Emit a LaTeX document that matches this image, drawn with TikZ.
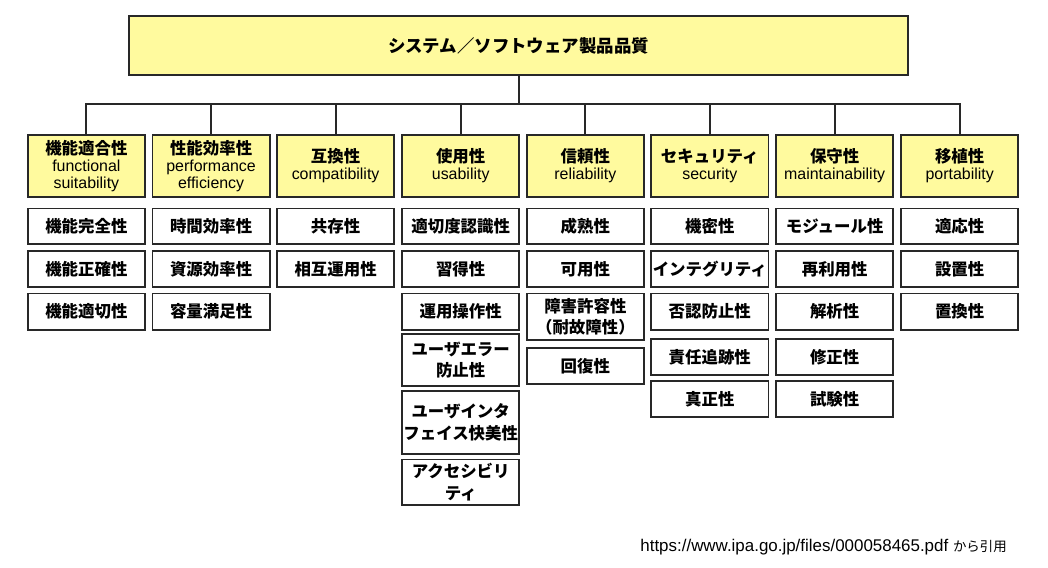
\documentclass[tikz,border=0pt]{standalone}
\usepackage{fontspec}
\setmainfont{Noto Sans CJK JP}
\newfontfamily\lat{Liberation Sans}
\definecolor{catyellow}{RGB}{255,250,158}
\definecolor{edge}{RGB}{40,40,40}
\newcommand\jp[1]{{\rmfamily\bfseries\fontsize{16.5}{16.5}\selectfont #1}}
\tikzset{
  frame/.style={draw=edge, line width=1.8bp},
  topbox/.style={frame, fill=catyellow, minimum width=779bp, minimum height=59.5bp, inner sep=0pt,
    font=\bfseries\fontsize{17.5}{20}\selectfont},
  catbox/.style={frame, fill=catyellow, minimum width=117.2bp, minimum height=61.6bp, inner sep=0pt,
    align=center, anchor=north west, font=\lat\fontsize{16}{16.8}\selectfont},
  subbox/.style={frame, fill=white, minimum width=117.2bp, inner sep=0pt,
    align=center, anchor=north west, font=\bfseries\fontsize{16.5}{22}\selectfont},
  link/.style={draw=edge, line width=2bp},
  note/.style={inner sep=0pt, anchor=base east}
}
% \subnode{name}{left}{top}{bottom}{text}
\newcommand\subnode[5]{\node[subbox, minimum height={(#4-#3-1.8)*1bp}] (#1) at ({#2+0.9},{#3+0.9}) {#5};}
\begin{document}
\begin{tikzpicture}[x=1bp,y=-1bp]
\useasboundingbox[fill=white] (0,0) rectangle (1048,568);

\node[topbox] (top) at (518.5,45.5) {システム／ソフトウェア製品品質};
\coordinate (bus) at (518.5,104);

\node[catbox] (c1) at (26.9,134.2) {\jp{機能適合性}\\functional\\suitability};
\node[catbox] (c2) at (151.6,134.2) {\jp{性能効率性}\\performance\\efficiency};
\node[catbox] (c3) at (276.1,134.2) {\jp{互換性}\\compatibility};
\node[catbox] (c4) at (401.2,134.2) {\jp{使用性}\\usability};
\node[catbox] (c5) at (525.9,134.2) {\jp{信頼性}\\reliability};
\node[catbox] (c6) at (650.3,134.2) {\jp{セキュリティ}\\security};
\node[catbox] (c7) at (775.2,134.2) {\jp{保守性}\\maintainability};
\node[catbox] (c8) at (900.2,134.2) {\jp{移植性}\\portability};

\draw[link] (top.south) -- (bus);
\foreach \c in {c1,c2,c3,c4,c5,c6,c7,c8} { \draw[link] (\c.north) |- (bus); }

% functional suitability
\subnode{s11}{26}{206.7}{244.3}{機能完全性}
\subnode{s12}{26}{249.2}{286.8}{機能正確性}
\subnode{s13}{26}{291.7}{329.6}{機能適切性}
% performance efficiency
\subnode{s21}{150.7}{206.7}{244.3}{時間効率性}
\subnode{s22}{150.7}{249.2}{286.8}{資源効率性}
\subnode{s23}{150.7}{291.7}{329.6}{容量満足性}
% compatibility
\subnode{s31}{275.2}{206.7}{244.3}{共存性}
\subnode{s32}{275.2}{249.2}{286.8}{相互運用性}
% usability
\subnode{s41}{400.3}{206.7}{244.3}{適切度認識性}
\subnode{s42}{400.3}{249.2}{286.8}{習得性}
\subnode{s43}{400.3}{291.7}{329.6}{運用操作性}
\subnode{s44}{400.3}{332.3}{386}{ユーザエラー\\防止性}
\subnode{s45}{400.3}{389.3}{454}{ユーザインタ\\フェイス快美性}
\subnode{s46}{400.3}{457.7}{505.3}{アクセシビリ\\ティ}
% reliability
\subnode{s51}{525}{206.7}{244.3}{成熟性}
\subnode{s52}{525}{249.2}{286.8}{可用性}
\subnode{s53}{525}{291.7}{340}{障害許容性\\（耐故障性）}
\subnode{s54}{525}{346.3}{384}{回復性}
% security
\subnode{s61}{649.4}{206.7}{244.3}{機密性}
\subnode{s62}{649.4}{249.2}{286.8}{インテグリティ}
\subnode{s63}{649.4}{291.7}{329.6}{否認防止性}
\subnode{s64}{649.4}{337.3}{375}{責任追跡性}
\subnode{s65}{649.4}{379.5}{417.3}{真正性}
% maintainability
\subnode{s71}{774.3}{206.7}{244.3}{モジュール性}
\subnode{s72}{774.3}{249.2}{286.8}{再利用性}
\subnode{s73}{774.3}{291.7}{329.6}{解析性}
\subnode{s74}{774.3}{337.3}{375}{修正性}
\subnode{s75}{774.3}{379.5}{417.3}{試験性}
% portability
\subnode{s81}{899.3}{206.7}{244.3}{適応性}
\subnode{s82}{899.3}{249.2}{286.8}{設置性}
\subnode{s83}{899.3}{291.7}{329.6}{置換性}

\node[note] (src) at (1007,551.5) {{\lat\fontsize{17}{19}\selectfont https://www.ipa.go.jp/files/000058465.pdf }{\fontsize{13.5}{19}\selectfont から引用}};
\end{tikzpicture}
\end{document}
